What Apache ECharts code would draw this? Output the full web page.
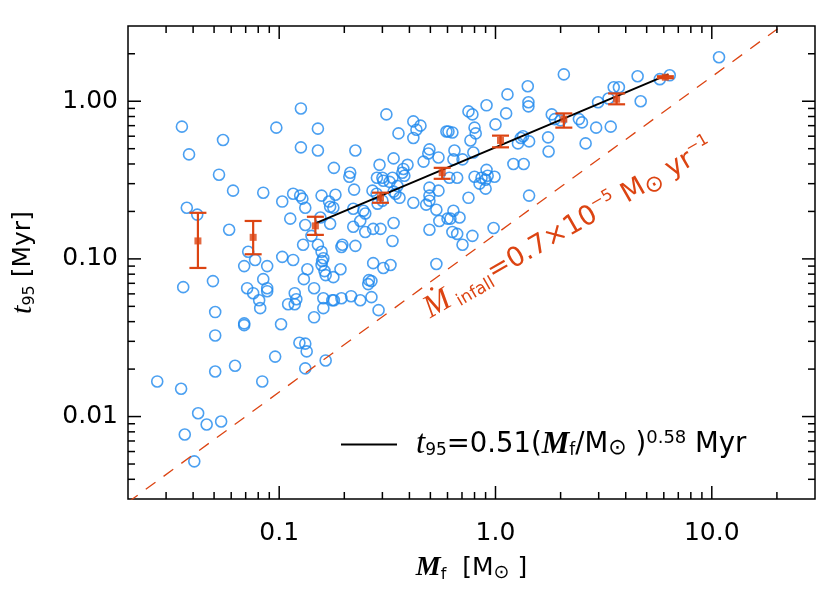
<!DOCTYPE html>
<html><head><meta charset="utf-8">
<script src="https://cdn.jsdelivr.net/npm/echarts@6/dist/echarts.min.js"></script>
<style>html,body{margin:0;padding:0;background:#fff}#c{width:830px;height:594px}</style>
</head><body><div id="c"></div>
<script>
// ---- data ----
const mfVals = [
0.0355,0.097,0.126,0.0383,0.055,0.0527,0.0612,0.0844,0.1033,0.116,
0.0374,0.0418,0.1125,0.0587,0.0719,0.0774,0.1033,0.116,0.088,0.0689,
0.036,0.0494,0.0844,0.0711,0.0758,0.088,0.088,0.126,0.151,0.151,
0.179,0.213,0.211,0.225,0.222,0.125,0.128,0.132,0.157,0.170,
0.172,0.178,0.182,0.132,0.155,0.172,0.220,0.220,0.129,0.151,
0.141,0.157,0.160,0.194,0.196,0.225,0.237,0.135,0.158,0.157,
0.162,0.164,0.178,0.192,0.130,0.145,0.0808,0.0817,0.110,0.118,
0.118,0.120,0.160,0.160,0.176,0.179,0.194,0.215,0.237,0.0506,
0.0689,0.0689,0.102,0.145,0.0506,0.124,0.132,0.134,0.0958,0.0625,
0.0506,0.132,0.164,0.0273,0.0352,0.0835,0.0422,0.0462,0.0539,0.0366,
0.0405,
2.07,1.41,1.136,1.42,1.42,0.909,0.75,0.782,1.12,0.313,
0.417,0.45,0.431,0.417,0.356,0.593,0.606,0.632,0.80,0.81,
1.0,0.766,1.34,1.31,1.27,1.43,1.75,1.82,1.88,2.0,
2.43,1.76,0.495,0.489,0.545,0.646,0.639,0.704,0.79,0.338,
0.291,0.392,0.465,0.375,0.371,0.379,0.283,0.30,0.303,0.324,
0.334,0.352,0.495,0.665,0.612,0.80,0.862,0.909,0.92,0.99,
0.90,0.844,0.90,0.27,0.282,0.338,0.36,0.345,0.545,0.495,
0.495,0.75,0.417,0.30,0.285,0.245,0.25,0.478,0.533,1.21,
1.35,1.43,0.639,0.619,0.682,0.60,0.55,0.338,0.25,0.272,
0.294,0.495,0.632,0.665,0.782,0.98,0.334,0.704,0.272,0.303,
0.327,0.533,0.26,0.267,0.258,0.267,0.288,
10.8,4.54,5.75,6.39,3.52,3.72,2.98,3.33,4.69,2.51,2.92,3.41,2.61];
const t95Vals = [
0.69,0.68,0.90,0.46,0.568,0.342,0.271,0.263,0.231,0.259,
0.211,0.191,0.180,0.153,0.111,0.0985,0.103,0.0985,0.090,0.090,
0.0662,0.0723,0.0744,0.0652,0.0606,0.0652,0.0624,0.51,0.67,0.487,
0.378,0.352,0.332,0.487,0.275,0.252,0.241,0.211,0.252,0.231,
0.214,0.211,0.255,0.164,0.183,0.167,0.208,0.160,0.123,0.123,
0.140,0.111,0.101,0.119,0.123,0.121,0.174,0.086,0.097,0.0915,
0.0837,0.0789,0.0766,0.086,0.0744,0.0652,0.0547,0.0487,0.0516,0.0606,
0.0516,0.0555,0.0563,0.0487,0.0547,0.0547,0.0563,0.058,0.0547,0.046,
0.039,0.038,0.0385,0.0426,0.0327,0.0294,0.029,0.0259,0.024,0.021,
0.0193,0.0202,0.0227,0.0167,0.015,0.0167,0.0105,0.0089,0.0093,0.0077,
0.0052,
1.48,1.245,1.105,0.985,0.928,0.942,0.862,0.825,0.837,0.825,
0.745,0.70,0.66,0.585,0.625,0.643,0.643,0.634,0.68,0.625,
0.713,0.564,0.60,0.585,0.54,0.556,0.59,0.825,0.77,0.756,
0.77,0.48,0.495,0.466,0.44,0.487,0.428,0.428,0.473,0.434,
0.395,0.395,0.414,0.372,0.352,0.337,0.327,0.327,0.313,0.308,
0.327,0.29,0.283,0.327,0.327,0.332,0.327,0.367,0.337,0.332,
0.318,0.30,0.279,0.271,0.259,0.267,0.244,0.259,0.271,0.252,
0.234,0.244,0.227,0.234,0.224,0.202,0.194,0.221,0.205,0.40,
0.40,0.252,0.202,0.18,0.183,0.18,0.174,0.169,0.148,0.155,
0.155,0.153,0.148,0.144,0.140,0.157,0.130,0.123,0.094,0.0875,
0.0915,0.0928,0.0733,0.0723,0.0692,0.0572,0.0473,
1.90,1.44,1.38,1.46,1.227,1.227,0.985,1.04,1.0,0.734,0.68,0.69,0.54];

const binMf  = [0.0421,0.0758,0.147,0.294,0.567,1.055,2.07,3.63,6.1];
const binT   = [0.130,0.137,0.162,0.244,0.352,0.564,0.77,1.03,1.42];
const binLo  = [0.0876,0.107,0.142,0.227,0.322,0.51,0.68,0.956,1.40];
const binHi  = [0.196,0.174,0.185,0.263,0.378,0.605,0.837,1.12,1.44];

const fitMf = [0.147, 6.3];
const fitT  = [0.168, 1.48];
const infallMf = [0.02, 30];
const infallT  = [0.00286, 4.29];

const xMajor = [0.1, 1, 10];
const xMajorLabels = ['0.1', '1.0', '10.0'];
const yMajor = [0.01, 0.1, 1];
const yMajorLabels = ['0.01', '0.10', '1.00'];
const xMinor = [0.03,0.04,0.05,0.06,0.07,0.08,0.09,0.2,0.3,0.4,0.5,0.6,0.7,0.8,0.9,2,3,4,5,6,7,8,9,20];
const yMinor = [0.004,0.005,0.006,0.007,0.008,0.009,0.02,0.03,0.04,0.05,0.06,0.07,0.08,0.09,0.2,0.3,0.4,0.5,0.6,0.7,0.8,0.9,2];

// ---- styling ----
const X_MIN = 0.02, X_MAX = 30, Y_MIN = 0.003, Y_MAX = 3;
const BLUE = '#1e88ee';
const RED = '#dc4412';
const SANS = "'DejaVu Sans', sans-serif";
const SERIF = "'Liberation Serif', 'DejaVu Serif', serif";

function fmt(vals, labels) {
  return function (v) {
    for (let i = 0; i < vals.length; i++) {
      if (Math.abs(Math.log10(v) - Math.log10(vals[i])) < 1e-6) return labels[i];
    }
    return '';
  };
}

function tickSeries(vals, axis, len) {
  return {
    type: 'custom', silent: true, clip: false, z: 10,
    data: vals.map(v => axis === 'x' ? [v, Y_MIN] : [X_MIN, v]),
    renderItem: function (params, api) {
      const st = { stroke: '#000', lineWidth: 1.5 };
      if (axis === 'x') {
        const v = api.value(0);
        const a = api.coord([v, Y_MIN]), b = api.coord([v, Y_MAX]);
        return { type: 'group', children: [
          { type: 'line', shape: { x1: a[0], y1: a[1], x2: a[0], y2: a[1] - len }, style: st },
          { type: 'line', shape: { x1: b[0], y1: b[1], x2: b[0], y2: b[1] + len }, style: st }
        ]};
      } else {
        const v = api.value(1);
        const a = api.coord([X_MIN, v]), b = api.coord([X_MAX, v]);
        return { type: 'group', children: [
          { type: 'line', shape: { x1: a[0], y1: a[1], x2: a[0] + len, y2: a[1] }, style: st },
          { type: 'line', shape: { x1: b[0], y1: b[1], x2: b[0] - len, y2: b[1] }, style: st }
        ]};
      }
    }
  };
}

const richBase = {
  n:   { fontFamily: SANS, fontSize: 25, color: '#000', lineHeight: 30 },
  it:  { fontFamily: SERIF, fontStyle: 'italic', fontSize: 30, color: '#000', lineHeight: 30 },
  itb: { fontFamily: SERIF, fontStyle: 'italic', fontWeight: 'bold', fontSize: 28, color: '#000', lineHeight: 30 },
  sub: { fontFamily: SANS, fontSize: 16, color: '#000', lineHeight: 12, verticalAlign: 'bottom' },
  sol: { fontFamily: SANS, fontSize: 19, color: '#000', lineHeight: 15, verticalAlign: 'bottom' },
  sup: { fontFamily: SANS, fontSize: 16, color: '#000', lineHeight: 12, verticalAlign: 'top' },
  pad: { width: 14 }
};
const richLegend = Object.assign({}, richBase, {
  n:   { fontFamily: SANS, fontSize: 27.5, color: '#000', lineHeight: 30 },
  sub: { fontFamily: SANS, fontSize: 17, color: '#000', lineHeight: 12, verticalAlign: 'bottom' },
  sol: { fontFamily: SANS, fontSize: 22, color: '#000', lineHeight: 16, verticalAlign: 'bottom' },
  sup: { fontFamily: SANS, fontSize: 18, color: '#000', lineHeight: 12, verticalAlign: 'top' },
  it:  { fontFamily: SERIF, fontStyle: 'italic', fontSize: 33, color: '#000', lineHeight: 30 },
  itb: { fontFamily: SERIF, fontStyle: 'italic', fontWeight: 'bold', fontSize: 31, color: '#000', lineHeight: 30 }
});

const chart = echarts.init(document.getElementById('c'), null, { renderer: 'canvas' });
chart.setOption({
  animation: false,
  backgroundColor: '#fff',
  grid: { left: 128, right: 15, top: 26, bottom: 95, show: true, borderColor: '#000', borderWidth: 1.5,
          backgroundColor: 'transparent', containLabel: false, outerBoundsMode: 'none' },
  xAxis: {
    type: 'log', logBase: 10, min: X_MIN, max: X_MAX,
    axisLine: { show: false }, axisTick: { show: false }, splitLine: { show: false }, minorTick: { show: false },
    axisLabel: { formatter: fmt(xMajor, xMajorLabels), fontFamily: SANS, fontSize: 25, color: '#000', margin: 22,
                 showMinLabel: false, showMaxLabel: false, hideOverlap: false },
    name: '{itb|M}{sub|f}{n|  [M}{sol|⊙}{n| ]}',
    nameLocation: 'middle', nameGap: 54,
    nameTextStyle: { rich: richBase }
  },
  yAxis: {
    type: 'log', logBase: 10, min: Y_MIN, max: Y_MAX,
    axisLine: { show: false }, axisTick: { show: false }, splitLine: { show: false }, minorTick: { show: false },
    axisLabel: { formatter: fmt(yMajor, yMajorLabels), fontFamily: SANS, fontSize: 25, color: '#000', margin: 10,
                 showMinLabel: false, showMaxLabel: false, hideOverlap: false },
    name: '{it|t}{sub|95}{n| [Myr]}',
    nameLocation: 'middle', nameRotate: 90, nameGap: 90,
    nameTextStyle: { rich: richBase }
  },
  legend: {
    left: 336, top: 423, itemWidth: 56, itemHeight: 2,
    data: [{ name: 'fit', icon: 'rect' }],
    selectedMode: false,
    formatter: function () {
      return '{pad|}{it|t}{sub|95}{n|=0.51(}{itb|M}{sub|f}{n|/M}{sol|⊙}{n| )}{sup|0.58}{n| Myr}';
    },
    textStyle: { rich: richLegend }
  },
  graphic: [{
    type: 'text', x: 426, y: 311, rotation: 30 * Math.PI / 180, silent: true,
    style: {
      text: '{Md|Ṁ}{sb| infall}{n|=0.7×10}{sp|−5}{n| M}{sol|⊙}{n| yr}{sp|−1}',
      align: 'left', verticalAlign: 'middle', fill: RED,
      rich: {
        Md:  { fontFamily: SERIF, fontStyle: 'italic', fontSize: 32, fill: RED, lineHeight: 34 },
        sb:  { fontFamily: SANS, fontSize: 17, fill: RED, lineHeight: 14, verticalAlign: 'bottom' },
        n:   { fontFamily: SANS, fontSize: 27, fill: RED, lineHeight: 34 },
        sp:  { fontFamily: SANS, fontSize: 16, fill: RED, lineHeight: 14, verticalAlign: 'top' },
        sol: { fontFamily: SANS, fontSize: 23, fill: RED, lineHeight: 26, verticalAlign: 'bottom' }
      }
    }
  }],
  series: [
    {
      name: 'points', type: 'scatter', z: 2,
      data: mfVals.map((m, i) => [m, t95Vals[i]]),
      symbol: 'circle', symbolSize: 11,
      itemStyle: { color: 'rgba(0,0,0,0)', borderColor: BLUE, borderWidth: 1.6 },
      emphasis: { disabled: true }
    },
    {
      name: 'infall', type: 'line', z: 3, silent: true,
      data: infallMf.map((m, i) => [m, infallT[i]]),
      symbol: 'none',
      lineStyle: { color: RED, width: 1.3, type: [12, 10] }
    },
    {
      name: 'fit', type: 'line', z: 4, silent: true,
      data: fitMf.map((m, i) => [m, fitT[i]]),
      symbol: 'none', itemStyle: { color: '#000' },
      lineStyle: { color: '#000', width: 2 }
    },
    {
      name: 'bins', type: 'custom', z: 5, silent: true,
      data: binMf.map((m, i) => [m, binT[i], binLo[i], binHi[i]]),
      renderItem: function (params, api) {
        const x = api.value(0);
        const lo = api.coord([x, api.value(2)]);
        const hi = api.coord([x, api.value(3)]);
        const w = 8.5;
        const st = { stroke: RED, lineWidth: 2.2 };
        return { type: 'group', children: [
          { type: 'line', shape: { x1: lo[0], y1: lo[1], x2: hi[0], y2: hi[1] }, style: st },
          { type: 'line', shape: { x1: lo[0] - w, y1: lo[1], x2: lo[0] + w, y2: lo[1] }, style: st },
          { type: 'line', shape: { x1: hi[0] - w, y1: hi[1], x2: hi[0] + w, y2: hi[1] }, style: st }
        ]};
      }
    },
    {
      name: 'binMean', type: 'scatter', z: 6, silent: true,
      data: binMf.map((m, i) => [m, binT[i]]),
      symbol: 'rect', symbolSize: 7,
      itemStyle: { color: RED }
    },
    tickSeries(xMajor, 'x', 13),
    tickSeries(xMinor, 'x', 7),
    tickSeries(yMajor, 'y', 13),
    tickSeries(yMinor, 'y', 7)
  ]
});
</script>
</body></html>
